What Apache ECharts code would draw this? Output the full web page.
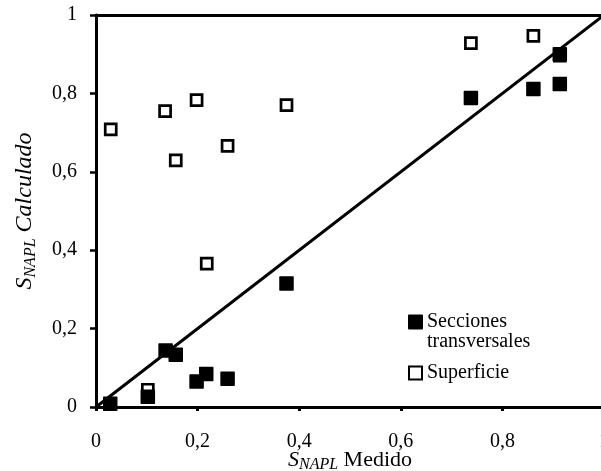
<!DOCTYPE html>
<html>
<head>
<meta charset="utf-8">
<script src="https://cdn.jsdelivr.net/npm/echarts@6/dist/echarts.min.js"></script>
<style>
  html, body { margin: 0; padding: 0; background: #fff; }
  #chart { width: 601px; height: 471px; }
</style>
</head>
<body>
<div id="chart"></div>
<script>
// Saturación de NAPL: valores medidos frente a calculados
const medidoSecciones = [0.028, 0.102, 0.137, 0.157, 0.198, 0.217, 0.259, 0.375, 0.738, 0.861, 0.913, 0.913];
const calculadoSecciones = [0.008, 0.026, 0.144, 0.133, 0.065, 0.084, 0.072, 0.315, 0.788, 0.811, 0.824, 0.900];

const medidoSuperficie = [0.029, 0.102, 0.136, 0.157, 0.198, 0.218, 0.259, 0.375, 0.738, 0.861, 0.913];
const calculadoSuperficie = [0.708, 0.044, 0.755, 0.629, 0.783, 0.366, 0.666, 0.770, 0.928, 0.947, 0.896];

// Recta 1:1 (calculado = medido)
const rectaIgualdad = [0, 1];

const axisTicks = [0, 0.2, 0.4, 0.6, 0.8, 1];

const FONT = 'Liberation Serif';

function fmtTick(v) {
  const r = Math.round(v * 10) / 10;
  if (r === 0) return '0';
  if (r === 1) return '1';
  return r.toFixed(1).replace('.', ',');
}

function pairs(xs, ys) {
  return xs.map((x, i) => [x, ys[i]]);
}

const chart = echarts.init(document.getElementById('chart'), null, { renderer: 'canvas' });

const axisLineStyle = { color: '#000', width: 3 };

chart.setOption({
  animation: false,
  backgroundColor: '#fff',
  grid: { left: 96, top: 15, width: 508, height: 392, containLabel: false, outerBoundsMode: 'none' },
  legend: [
    {
      data: ['Secciones transversales'],
      left: 408,
      top: 292,
      padding: 0,
      itemWidth: 13,
      itemHeight: 13,
      selectedMode: false,
      formatter: () => '\nSecciones\ntransversales',
      textStyle: { fontFamily: FONT, fontSize: 20, lineHeight: 20, color: '#000' }
    },
    {
      data: ['Superficie'],
      left: 408,
      top: 363,
      padding: 0,
      itemWidth: 13,
      itemHeight: 13,
      selectedMode: false,
      textStyle: { fontFamily: FONT, fontSize: 20, color: '#000' }
    }
  ],
  xAxis: [
    {
      type: 'value',
      position: 'bottom',
      min: axisTicks[0],
      max: axisTicks[axisTicks.length - 1],
      interval: 0.2,
      axisLine: { show: true, lineStyle: axisLineStyle },
      axisTick: { show: true, inside: false, length: 4, lineStyle: { color: '#000', width: 3 } },
      axisLabel: { margin: 25, fontFamily: FONT, fontSize: 20, color: '#000', formatter: fmtTick },
      splitLine: { show: false },
      name: '{s|S}{sub|NAPL}{n| Medido}',
      nameLocation: 'middle',
      nameGap: 40,
      nameMoveOverlap: false,
      nameTextStyle: {
        rich: {
          s: { fontFamily: FONT, fontSize: 22, fontStyle: 'italic', color: '#000', lineHeight: 26 },
          sub: { fontFamily: FONT, fontSize: 16, fontStyle: 'italic', color: '#000', lineHeight: 15, verticalAlign: 'bottom' },
          n: { fontFamily: FONT, fontSize: 22, color: '#000', lineHeight: 26 }
        }
      }
    },
    {
      type: 'value',
      position: 'top',
      min: 0,
      max: 1,
      axisLine: { show: true, lineStyle: axisLineStyle },
      axisTick: { show: false },
      axisLabel: { show: false },
      splitLine: { show: false }
    }
  ],
  yAxis: {
    type: 'value',
    min: axisTicks[0],
    max: axisTicks[axisTicks.length - 1],
    interval: 0.2,
    axisLine: { show: true, lineStyle: axisLineStyle },
    axisTick: { show: true, inside: false, length: 6, lineStyle: { color: '#000', width: 2.5 } },
    axisLabel: { margin: 19, fontFamily: FONT, fontSize: 20, color: '#000', formatter: fmtTick },
    splitLine: { show: false },
    name: '{s|S}{sub|NAPL}{s| Calculado}',
    nameLocation: 'middle',
    nameRotate: 90,
    nameGap: 57,
    nameMoveOverlap: false,
    nameTextStyle: {
      rich: {
        s: { fontFamily: FONT, fontSize: 24, fontStyle: 'italic', color: '#000', lineHeight: 28 },
        sub: { fontFamily: FONT, fontSize: 16, fontStyle: 'italic', color: '#000', lineHeight: 15, verticalAlign: 'bottom' }
      }
    }
  },
  series: [
    {
      name: 'Recta 1:1',
      type: 'line',
      xAxisIndex: 0,
      data: rectaIgualdad.map(v => [v, v]),
      showSymbol: false,
      symbol: 'none',
      lineStyle: { color: '#000', width: 3 },
      z: 1,
      silent: true
    },
    {
      name: 'Superficie',
      type: 'scatter',
      xAxisIndex: 0,
      data: pairs(medidoSuperficie, calculadoSuperficie),
      symbol: 'rect',
      symbolSize: 11,
      itemStyle: { color: '#fff', borderColor: '#000', borderWidth: 2.7, opacity: 1 },
      z: 2
    },
    {
      name: 'Secciones transversales',
      type: 'scatter',
      xAxisIndex: 0,
      data: pairs(medidoSecciones, calculadoSecciones),
      symbol: 'rect',
      symbolSize: 13,
      itemStyle: { color: '#000', borderColor: '#000', borderWidth: 1.5, borderJoin: 'round', opacity: 1 },
      z: 3
    }
  ]
});
</script>
</body>
</html>
